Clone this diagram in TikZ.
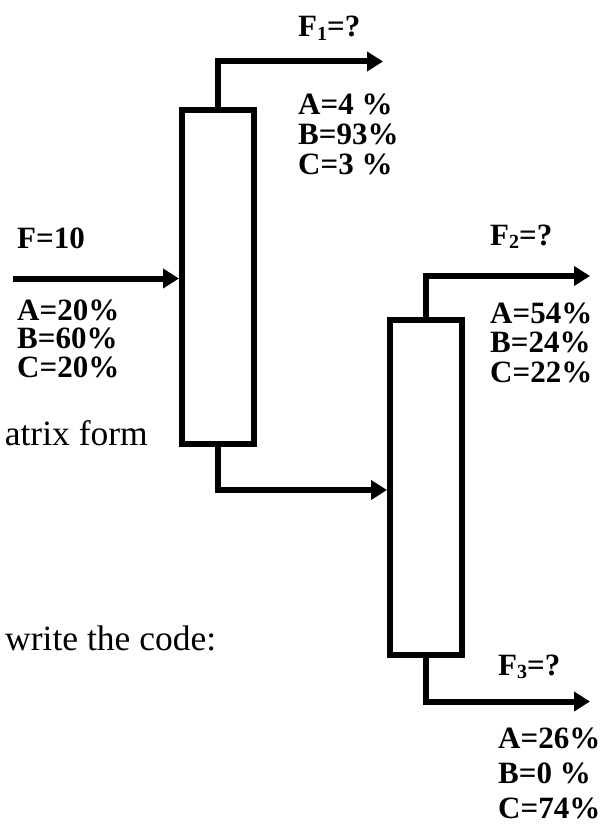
\documentclass[tikz,border=0pt]{standalone}
\usepackage{fontspec}
\setmainfont{Liberation Serif}
\usetikzlibrary{arrows.meta}

% subscript for the stream labels
\newcommand{\streamsub}[1]{\raisebox{-0.12em}{\fontsize{20}{20}\selectfont #1}}

\begin{document}
\begin{tikzpicture}[x=1pt,y=-1pt,
  column/.style={draw=black,line width=6pt,fill=white,inner sep=0pt,
    minimum width=72pt,minimum height=334pt},
  stream/.style={line width=6pt,line join=miter,
    -{Triangle[length=16pt,width=19pt]}},
  lbl/.style={anchor=base west,inner sep=0pt,
    font=\fontsize{31}{31}\selectfont\bfseries},
  note/.style={inner sep=0pt,font=\fontsize{35.5}{36}\selectfont}]

\useasboundingbox (0,0) rectangle (611,824);

% distillation columns
\node[column] (col1) at (218,277) {};
\node[column,minimum width=71.5pt,minimum height=335pt] (col2) at (425.75,487.5) {};

% stream end points
\coordinate (feed) at (13,278.5);
\coordinate (top1) at (383,61.5);
\coordinate (mid) at (218,490);
\coordinate (top2) at (590,276);
\coordinate (bot2) at (590,701.5);

% streams
\draw[stream] (feed) -- (feed -| col1.west);
\draw[stream] (col1.north) |- (top1);
\draw[stream] (col1.south) -- (mid) -- (mid -| col2.west);
\draw[stream] (col2.north) |- (top2);
\draw[stream] (col2.south) |- (bot2);

% feed
\node[lbl] (fF) at (17,248) {F=10};
\node[lbl] (fA) at (17,320) {A=20\%};
\node[lbl] (fB) at (17,348.5) {B=60\%};
\node[lbl] (fC) at (17,377) {C=20\%};

% top product of column 1
\node[lbl] (aF) at (298,37) {F\streamsub{1}=?};
\node[lbl] (aA) at (298,115) {A=4 \%};
\node[lbl] (aB) at (298,144.5) {B=93\%};
\node[lbl] (aC) at (298,174) {C=3 \%};

% top product of column 2
\node[lbl] (bF) at (490,245) {F\streamsub{2}=?};
\node[lbl] (bA) at (490,323) {A=54\%};
\node[lbl] (bB) at (490,352.5) {B=24\%};
\node[lbl] (bC) at (490,382) {C=22\%};

% bottom product of column 2
\node[lbl] (cF) at (498,675) {F\streamsub{3}=?};
\node[lbl] (cA) at (498,748) {A=26\%};
\node[lbl] (cB) at (498,783) {B=0 \%};
\node[lbl] (cC) at (498,818) {C=74\%};

% surrounding text
\node[note,anchor=base east] (t1) at (148,445) {atrix form};
\node[note,anchor=base west] (t2) at (5,650) {write the code:};

\end{tikzpicture}
\end{document}
